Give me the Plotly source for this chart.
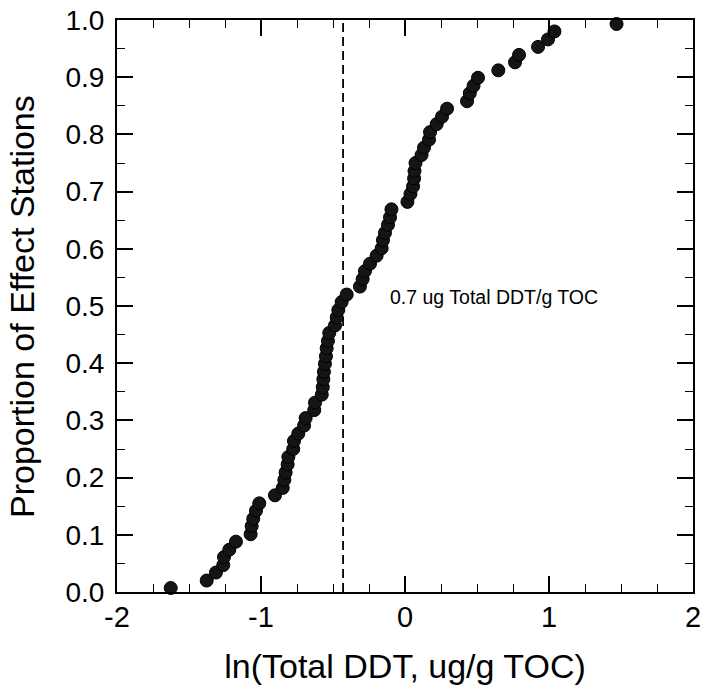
import plotly.graph_objects as go

# ln(Total DDT, ug/g TOC) for each effect station, sorted
ln_ddt = [
    -1.627, -1.377, -1.313, -1.262, -1.257, -1.220, -1.174, -1.072, -1.065, -1.054,
    -1.035, -1.012, -0.903, -0.849, -0.838, -0.829, -0.815, -0.810, -0.776, -0.771,
    -0.741, -0.701, -0.690, -0.630, -0.625, -0.578, -0.571, -0.567, -0.563, -0.556,
    -0.549, -0.544, -0.535, -0.526, -0.486, -0.474, -0.463, -0.440, -0.405, -0.313,
    -0.294, -0.278, -0.243, -0.197, -0.162, -0.153, -0.139, -0.118, -0.104, -0.094,
    0.017, 0.038, 0.056, 0.063, 0.066, 0.073, 0.115, 0.132, 0.167, 0.174,
    0.220, 0.257, 0.292, 0.431, 0.450, 0.476, 0.507, 0.648, 0.764, 0.792,
    0.924, 0.993, 1.038, 1.469,
]

# cumulative proportion of effect stations
proportion = [
    0.007, 0.020, 0.034, 0.047, 0.061, 0.074, 0.088, 0.101, 0.115, 0.128,
    0.142, 0.155, 0.169, 0.182, 0.196, 0.209, 0.223, 0.236, 0.250, 0.264,
    0.277, 0.291, 0.304, 0.318, 0.331, 0.345, 0.358, 0.372, 0.385, 0.399,
    0.412, 0.426, 0.439, 0.453, 0.466, 0.480, 0.493, 0.507, 0.520, 0.534,
    0.547, 0.561, 0.574, 0.588, 0.601, 0.615, 0.628, 0.642, 0.655, 0.669,
    0.682, 0.696, 0.709, 0.723, 0.736, 0.750, 0.764, 0.777, 0.791, 0.804,
    0.818, 0.831, 0.845, 0.858, 0.872, 0.885, 0.899, 0.912, 0.926, 0.939,
    0.953, 0.966, 0.980, 0.993,
]

x_ticks = [-2, -1, 0, 1, 2]
x_ticktext = ["-2", "-1", "0", "1", "2"]

threshold_x = -0.43
threshold_label = "0.7 ug Total DDT/g TOC"

FONT = "Liberation Sans, Arial, sans-serif"

fig = go.Figure()

# threshold dashed line
fig.add_trace(go.Scatter(
    x=[threshold_x, threshold_x], y=[0, 1],
    mode="lines",
    line=dict(color="black", width=1.8, dash="9px,5px"),
    showlegend=False, hoverinfo="skip",
))

fig.add_trace(go.Scatter(
    x=ln_ddt, y=proportion,
    mode="markers",
    marker=dict(size=13, color="#151515", line=dict(color="#000000", width=1)),
    showlegend=False,
    cliponaxis=False,
))

fig.add_annotation(
    x=-0.118, y=0.516, text=threshold_label,
    showarrow=False, xanchor="left", yanchor="middle",
    font=dict(family=FONT, size=19.5, color="black"),
)

# y axis title placed as an annotation for exact position
fig.add_annotation(
    xref="paper", yref="paper", x=-0.165, y=0.5,
    text="Proportion of Effect Stations", textangle=-90,
    showarrow=False, xanchor="center", yanchor="middle",
    font=dict(family=FONT, size=34, color="black"),
)

axis_common = dict(
    showgrid=False, zeroline=False, automargin=False,
    showline=True, linecolor="black", linewidth=2, mirror="ticks",
    ticks="inside", ticklen=16, tickwidth=1.5, tickcolor="black",
    ticklabeloverflow="allow",
)

fig.update_layout(
    width=704, height=688,
    margin=dict(l=117, r=11, t=20, b=96),
    plot_bgcolor="white", paper_bgcolor="white",
    xaxis=dict(
        range=[-2, 2], tickvals=x_ticks, ticktext=x_ticktext,
        minor=dict(dtick=0.25, tick0=0, ticks="inside", ticklen=8, tickwidth=1.2, tickcolor="black"),
        tickfont=dict(family=FONT, size=29, color="black"),
        ticklabelstandoff=-2,
        title=dict(text="ln(Total DDT, ug/g TOC)", font=dict(family=FONT, size=34, color="black"), standoff=22),
        **axis_common,
    ),
    yaxis=dict(
        range=[0, 1], dtick=0.1, tick0=0, tickformat=".1f",
        minor=dict(dtick=0.05, tick0=0, ticks="inside", ticklen=8, tickwidth=1.2, tickcolor="black"),
        tickfont=dict(family=FONT, size=28, color="black"),
        ticklabelstandoff=5,
        **axis_common,
    ),
)

# drop the default page margin so the figure sits at the window's corner
fig.write_html(
    "out.html",
    config={"displayModeBar": False},
    post_script="document.body.style.margin='0';document.body.style.overflow='hidden';",
)
